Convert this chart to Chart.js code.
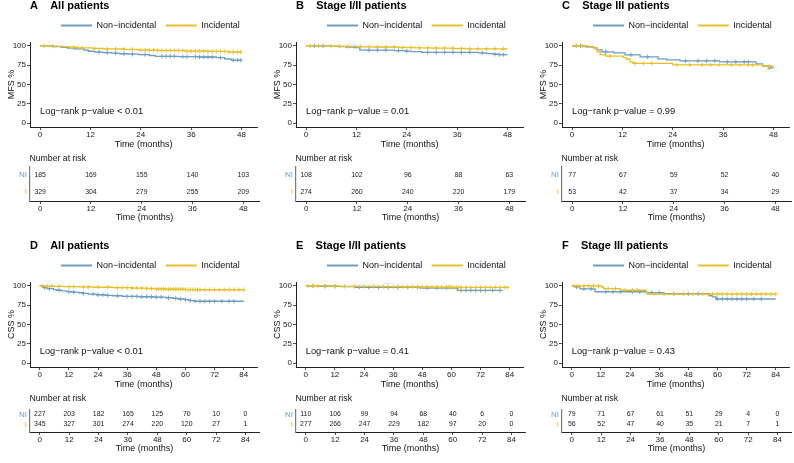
<!DOCTYPE html>
<html>
<head>
<meta charset="utf-8">
<script src="https://cdn.jsdelivr.net/npm/chart.js@4.4.1/dist/chart.umd.min.js"></script>
<style>
  html, body { margin: 0; padding: 0; background: #ffffff; }
  body { width: 794px; height: 463px; overflow: hidden; position: relative; }
  canvas { position: absolute; }
</style>
</head>
<body>
<script>
// ---------------- DATA ----------------
const panelLetters = ['A', 'B', 'C', 'D', 'E', 'F'];
const panelNames = ['All patients', 'Stage I/II patients', 'Stage III patients', 'All patients', 'Stage I/II patients', 'Stage III patients'];
const yAxisNames = ['MFS %', 'MFS %', 'MFS %', 'CSS %', 'CSS %', 'CSS %'];
const pValueLabels = ['Log\u2212rank p\u2212value < 0.01', 'Log\u2212rank p\u2212value = 0.01', 'Log\u2212rank p\u2212value = 0.99',
                      'Log\u2212rank p\u2212value < 0.01', 'Log\u2212rank p\u2212value = 0.41', 'Log\u2212rank p\u2212value = 0.43'];
const groupNames = ['Non\u2212incidental', 'Incidental'];
const riskRowNames = ['NI', 'I'];
const riskTitle = 'Number at risk';
const timeTitle = 'Time (months)';
const mfsTimes = [0, 12, 24, 36, 48];
const cssTimes = [0, 12, 24, 36, 48, 60, 72, 84];
const percentTicks = [0, 25, 50, 75, 100];

// Panel A (MFS, all patients)
const aNiT = [0, 3, 5, 6.5, 8, 10.5, 11.5, 13, 15, 17, 19, 21, 23.5, 26, 27.5, 33, 38, 42, 44, 45.5, 48];
const aNiS = [100, 99.0, 98.0, 97.0, 96.0, 94.5, 93.0, 92.0, 91.2, 90.5, 89.8, 89.2, 88.6, 87.5, 86.5, 86.0, 85.6, 84.8, 83.0, 81.5, 81.5];
const aNiC = [14, 16, 18, 20, 22, 25, 29, 30, 31, 32, 34, 35, 37, 38, 39, 40, 41, 43, 46, 47, 47.8];
const aIT = [0, 2, 5, 7, 9, 12.5, 15, 20, 23.5, 28, 34.5, 40, 45, 48];
const aIS = [100, 99.7, 99.1, 98.2, 97.5, 96.6, 96.0, 95.4, 94.6, 94.0, 93.3, 92.8, 92.0, 92.0];
const aIC = [1, 3, 8, 10, 13, 16, 18, 20, 22, 24, 25, 26, 27, 28, 29, 30, 31, 32, 33, 34, 35, 36, 37, 38, 39, 40, 41, 42, 43, 44, 45, 46, 47, 47.8];
const aRiskNI = [185, 169, 155, 140, 103];
const aRiskI = [329, 304, 279, 255, 209];

// Panel B (MFS, stage I/II)
const bNiT = [0, 6, 7.5, 9.5, 11.5, 12.8, 21, 23.5, 25, 27.5, 41, 43, 44.5, 46, 48];
const bNiS = [100, 99.4, 99.0, 98.5, 97.8, 94.4, 93.8, 93.2, 92.5, 91.6, 90.8, 90.0, 89.2, 88.6, 88.6];
const bNiC = [2, 4, 15, 17, 19, 22, 24, 29, 31, 33, 35, 37, 39, 42, 45, 46, 47];
const bIT = [0, 5, 9, 12, 16, 22, 26, 30, 35, 38, 48];
const bIS = [100, 99.6, 99.3, 98.8, 98.5, 97.9, 97.5, 97.0, 96.6, 96.2, 96.2];
const bIC = [1, 3, 6, 8, 10, 13, 15, 17, 19, 21, 23, 25, 27, 29, 31, 33, 35, 37, 39, 41, 43, 45, 47];
const bRiskNI = [108, 102, 96, 88, 63];
const bRiskI = [274, 260, 240, 220, 179];

// Panel C (MFS, stage III)
const cNiT = [0, 3.2, 5.1, 5.9, 7.1, 9.9, 12.6, 16.2, 20.5, 22.5, 25.7, 35.1, 43.8, 45.4, 47, 48];
const cNiS = [100, 98.7, 97.4, 94.8, 92.2, 90.9, 88.3, 85.7, 83.1, 81.8, 80.5, 79.2, 76.6, 74.0, 71.4, 71.4];
const cNiC = [1, 2, 8, 14, 18, 27, 30, 32, 34, 37, 39, 41, 42, 47];
const cIT = [0, 3.9, 5.5, 6.0, 6.7, 8, 12.2, 13, 13.8, 14.5, 24, 45.4, 48];
const cIS = [100, 98.1, 96.2, 92.4, 88.7, 86.8, 84.9, 83.0, 79.2, 77.4, 75.5, 73.6, 73.6];
const cIC = [1, 2.5, 9, 15, 17, 19, 25, 28, 31, 33, 35, 38, 40, 42, 43, 47];
const cRiskNI = [77, 67, 59, 52, 40];
const cRiskI = [53, 42, 37, 34, 29];

// Panel D (CSS, all patients)
const dNiT = [0, 1, 1.6, 3, 5.7, 7, 9, 11, 13, 16, 18, 20, 23.4, 27, 30, 34, 41, 47, 52, 55, 57, 59.5, 61.5, 63.6, 84];
const dNiS = [100, 99.1, 97.8, 96.5, 95.2, 94.3, 93.4, 92.5, 92.0, 91.1, 90.2, 89.4, 88.5, 87.8, 87.2, 86.4, 85.9, 85.4, 84.6, 83.8, 83.0, 82.2, 81.0, 80.1, 80.1];
const dNiC = [2, 4, 8, 12, 14, 18, 22, 24, 26, 28, 32, 36, 38, 40, 42, 44, 46, 48, 50, 53, 56, 58, 60, 62, 64, 66, 68, 70, 72, 75, 78, 80];
const dIT = [0, 2, 6, 10, 16, 22, 30, 38, 44, 47, 52, 60, 65, 84];
const dIS = [100, 99.7, 99.4, 99.1, 98.6, 98.2, 97.6, 97.0, 96.6, 96.0, 95.6, 95.2, 95.0, 95.0];
const dIC = [1, 3, 5, 8, 12, 14, 18, 20, 24, 28, 32, 34, 36, 38, 40, 42, 44, 46, 48, 49, 50, 51, 52, 53, 54, 55, 56, 57, 58, 59, 60, 61, 62, 63, 64, 65, 66, 68, 70, 72, 74, 76, 78, 80, 82, 84];
const dRiskNI = [227, 203, 182, 165, 125, 70, 10, 0];
const dRiskI = [345, 327, 301, 274, 220, 120, 27, 1];

// Panel E (CSS, stage I/II)
const eNiT = [0, 6, 14, 20.2, 47, 62.5, 81];
const eNiS = [100, 99.5, 99.0, 98.0, 97.2, 94.1, 94.1];
const eNiC = [3, 8, 12, 22, 26, 30, 34, 38, 42, 46, 50, 54, 58, 64, 66, 68, 70, 72, 74, 77, 80];
const eIT = [0, 10, 14, 30, 40, 52, 60, 83.6];
const eIS = [100, 99.7, 99.4, 99.1, 98.8, 98.4, 98.0, 98.0];
const eIC = [1, 3, 5, 8, 12, 16, 20, 24, 28, 32, 34, 36, 38, 40, 42, 44, 46, 48, 50, 52, 54, 56, 58, 59, 60, 61, 62, 63, 64, 66, 68, 70, 72, 74, 76, 78, 80, 82, 83];
const eRiskNI = [110, 106, 99, 94, 68, 40, 6, 0];
const eRiskI = [277, 266, 247, 229, 182, 97, 20, 0];

// Panel F (CSS, stage III)
const fNiT = [0, 1.5, 3.4, 9.6, 30.7, 38, 56.7, 58, 59.4, 84];
const fNiS = [100, 98.7, 96.2, 92.4, 91.1, 89.8, 87.2, 85.7, 83.0, 83.0];
const fNiC = [2, 5, 8, 14, 17, 20, 25, 28, 33, 36, 42, 48, 52, 60, 62, 64, 66, 68, 70, 72, 75, 78];
const fIT = [0, 12.5, 13.2, 20, 30.5, 31.2, 84];
const fIS = [100, 98.2, 96.4, 94.3, 92.0, 89.4, 89.4];
const fIC = [1, 3, 5, 7, 9, 11, 15, 18, 22, 25, 27, 34, 38, 42, 46, 50, 54, 56, 58, 60, 62, 64, 66, 68, 70, 72, 74, 76, 78, 80, 82, 84];
const fRiskNI = [79, 71, 67, 61, 51, 29, 4, 0];
const fRiskI = [56, 52, 47, 40, 35, 21, 7, 1];

// ---------------- STYLE / LAYOUT ----------------
const BLUE = '#6C9DC3';
const YELLOW = '#E6C12A';
const FONT = "'Liberation Sans', Arial, Helvetica, sans-serif";
Chart.defaults.font.family = FONT;
Chart.defaults.color = '#111';

const colX = [0, 266, 532];
const rowY = [0, 240];
const KM_W = 262, KM_H = 150;
const RISK_H = [73, 64];
const RISK_TOP_PAD = [[3.78, 2.78], [3.78, 5.78]];
const RISK_YRANGE = [[0.45, 2.45], [0.25, 2.45]];

const panels = [
  { ni: [aNiT, aNiS, aNiC], inc: [aIT, aIS, aIC], risk: [aRiskNI, aRiskI], times: mfsTimes, xr: [-2.4, 51.7] },
  { ni: [bNiT, bNiS, bNiC], inc: [bIT, bIS, bIC], risk: [bRiskNI, bRiskI], times: mfsTimes, xr: [-2.4, 51.7] },
  { ni: [cNiT, cNiS, cNiC], inc: [cIT, cIS, cIC], risk: [cRiskNI, cRiskI], times: mfsTimes, xr: [-2.4, 51.7] },
  { ni: [dNiT, dNiS, dNiC], inc: [dIT, dIS, dIC], risk: [dRiskNI, dRiskI], times: cssTimes, xr: [-4.0, 89.5] },
  { ni: [eNiT, eNiS, eNiC], inc: [eIT, eIS, eIC], risk: [eRiskNI, eRiskI], times: cssTimes, xr: [-4.0, 89.5] },
  { ni: [fNiT, fNiS, fNiC], inc: [fIT, fIS, fIC], risk: [fRiskNI, fRiskI], times: cssTimes, xr: [-4.0, 89.5] }
];

function stepAt(ts, ss, t) {
  let v = ss[0];
  for (let k = 0; k < ts.length; k++) { if (ts[k] <= t) v = ss[k]; }
  return v;
}

// Reposition title / legend boxes after layout
const headerPlugin = {
  id: 'header',
  afterLayout(chart, args, o) {
    const t = chart.titleBlock;
    if (t && o.titleX !== undefined) { const w = t.right - t.left; t.left = o.titleX; t.right = o.titleX + w; }
    if (t && o.titleTop !== undefined) { const h = t.bottom - t.top; t.top = o.titleTop; t.bottom = o.titleTop + h; }
    const l = chart.legend;
    if (l && l.options.display && o.legendX !== undefined && l.lineWidths) {
      const pad = l.options.labels.padding;
      const start = (l.left + pad + l.right - l.lineWidths[0]) / 2;
      const dx = o.legendX - start;
      l.left += dx; l.right += dx;
    }
    if (l && l.options.display && o.legendTop !== undefined) { const h = l.bottom - l.top; l.top = o.legendTop; l.bottom = o.legendTop + h; }
  }
};

// p-value text and number-at-risk cells
const annotPlugin = {
  id: 'annot',
  afterDatasetsDraw(chart, args, o) {
    const ctx = chart.ctx;
    ctx.save();
    if (o.pText) {
      ctx.font = '9.3px ' + FONT;
      ctx.fillStyle = '#111';
      ctx.textAlign = 'left';
      ctx.textBaseline = 'middle';
      ctx.fillText(o.pText, chart.scales.x.getPixelForValue(o.pX), chart.scales.y.getPixelForValue(o.pY));
    }
    if (o.counts) {
      ctx.font = '6.9px ' + FONT;
      ctx.fillStyle = '#222';
      ctx.textAlign = 'center';
      ctx.textBaseline = 'middle';
      chart.data.datasets.forEach((ds, i) => {
        const meta = chart.getDatasetMeta(i);
        (ds.counts || []).forEach((n, k) => {
          const el = meta.data[k];
          if (el) ctx.fillText(String(n), el.x, el.y);
        });
      });
    }
    ctx.restore();
  }
};

function makeCanvas(left, top, w, h) {
  const c = document.createElement('canvas');
  c.width = w; c.height = h;
  c.style.left = left + 'px'; c.style.top = top + 'px';
  c.style.width = w + 'px'; c.style.height = h + 'px';
  document.body.appendChild(c);
  return c;
}

function xAxis(p, height) {
  return {
    type: 'linear', min: p.xr[0], max: p.xr[1],
    afterBuildTicks: (s) => { s.ticks = p.times.map(v => ({ value: v })); },
    afterFit: (s) => { s.height = height; },
    ticks: { font: { size: 8 }, color: '#1a1a1a', padding: 0, autoSkip: false, maxRotation: 0, callback: (v) => String(v) },
    grid: { display: true, drawOnChartArea: false, drawTicks: true, tickLength: 3, color: '#222', lineWidth: 0.8 },
    border: { display: true, color: '#222', width: 1 },
    title: { display: true, text: timeTitle, font: { size: 9 }, color: '#111', padding: 0 }
  };
}

panels.forEach((p, i) => {
  const col = i % 3, row = Math.floor(i / 3);
  const x0 = colX[col], y0 = rowY[row];

  // ---- KM chart ----
  const kmCanvas = makeCanvas(x0, y0, KM_W, KM_H);
  const niLine = p.ni[0].map((t, k) => ({ x: t, y: p.ni[1][k] }));
  const iLine = p.inc[0].map((t, k) => ({ x: t, y: p.inc[1][k] }));
  const niCens = p.ni[2].map(t => ({ x: t, y: stepAt(p.ni[0], p.ni[1], t) }));
  const iCens = p.inc[2].map(t => ({ x: t, y: stepAt(p.inc[0], p.inc[1], t) }));

  new Chart(kmCanvas, {
    type: 'line',
    data: {
      datasets: [
        { label: groupNames[0], data: niLine, stepped: true, borderColor: BLUE, borderWidth: 1.3, pointRadius: 0,
          pointBorderWidth: 2, pointBorderColor: BLUE, pointBackgroundColor: BLUE, fill: false, order: 4 },
        { label: groupNames[1], data: iLine, stepped: true, borderColor: YELLOW, borderWidth: 1.3, pointRadius: 0,
          pointBorderWidth: 2, pointBorderColor: YELLOW, pointBackgroundColor: YELLOW, fill: false, order: 2 },
        { type: 'scatter', data: niCens, showLine: false, pointStyle: 'cross', pointRadius: 2.2,
          borderColor: BLUE, backgroundColor: BLUE, borderWidth: 0.9, order: 3 },
        { type: 'scatter', data: iCens, showLine: false, pointStyle: 'cross', pointRadius: 2.2,
          borderColor: YELLOW, backgroundColor: YELLOW, borderWidth: 0.9, order: 1 }
      ]
    },
    options: {
      responsive: false, animation: false, events: [],
      layout: { padding: { top: 0, left: 0, right: 3, bottom: 0 } },
      scales: {
        x: xAxis(p, 23),
        y: {
          type: 'linear', min: -5, max: 105,
          afterBuildTicks: (s) => { s.ticks = percentTicks.map(v => ({ value: v })); },
          afterFit: (s) => { s.width = 30; },
          ticks: { font: { size: 8 }, color: '#1a1a1a', padding: 1, callback: (v) => String(v) },
          grid: { display: true, drawOnChartArea: false, drawTicks: true, tickLength: 3, color: '#222', lineWidth: 0.8 },
          border: { display: true, color: '#222', width: 1 },
          title: { display: true, text: yAxisNames[i], font: { size: 9 }, color: '#111', padding: { top: 6, bottom: 0 } }
        }
      },
      plugins: {
        title: { display: true, text: panelLetters[i] + '    ' + panelNames[i], align: 'start',
                 font: { size: 11, weight: 'bold' }, color: '#000', padding: { top: 0, bottom: 0.4 } },
        legend: {
          display: true, position: 'top', align: 'center',
          labels: {
            usePointStyle: true, pointStyle: 'line', pointStyleWidth: 31, boxHeight: 9,
            font: { size: 9 }, color: '#111', padding: 9.4,
            filter: (it) => it.datasetIndex < 2,
            sort: (a, b) => a.datasetIndex - b.datasetIndex
          }
        },
        tooltip: { enabled: false },
        header: { titleX: 30, titleTop: -0.9, legendX: 61, legendTop: 11.5 },
        annot: { pText: pValueLabels[i], pX: 0, pY: 15.7 }
      }
    },
    plugins: [headerPlugin, annotPlugin]
  });

  // ---- Risk table chart ----
  const rh = RISK_H[row];
  const riskCanvas = makeCanvas(x0, y0 + KM_H, KM_W, rh);
  new Chart(riskCanvas, {
    type: 'scatter',
    data: {
      datasets: [
        { data: p.times.map(t => ({ x: t, y: 2 })), counts: p.risk[0], pointRadius: 0, showLine: false },
        { data: p.times.map(t => ({ x: t, y: 1 })), counts: p.risk[1], pointRadius: 0, showLine: false }
      ]
    },
    options: {
      responsive: false, animation: false, events: [],
      layout: { padding: { top: 0, left: 0, right: 3, bottom: 0 } },
      scales: {
        x: xAxis(p, 22),
        y: {
          type: 'linear', min: RISK_YRANGE[row][0], max: RISK_YRANGE[row][1],
          afterBuildTicks: (s) => { s.ticks = [{ value: 2 }, { value: 1 }]; },
          afterFit: (s) => { s.width = 30; },
          ticks: {
            font: { size: 8 }, padding: 3,
            callback: (v) => (v === 2 ? riskRowNames[0] : riskRowNames[1]),
            color: (c) => (c.tick && c.tick.value === 2 ? BLUE : YELLOW)
          },
          grid: { display: true, drawOnChartArea: false, drawTicks: false },
          border: { display: true, color: '#7a7a7a', width: 1.2 }
        }
      },
      plugins: {
        title: { display: true, text: riskTitle, align: 'start', font: { size: 8.7, weight: 'normal' }, color: '#111',
                 padding: { top: RISK_TOP_PAD[row][0], bottom: RISK_TOP_PAD[row][1] } },
        legend: { display: false },
        tooltip: { enabled: false },
        header: { titleX: 29.5 },
        annot: { counts: true }
      }
    },
    plugins: [headerPlugin, annotPlugin]
  });
});
</script>
</body>
</html>
